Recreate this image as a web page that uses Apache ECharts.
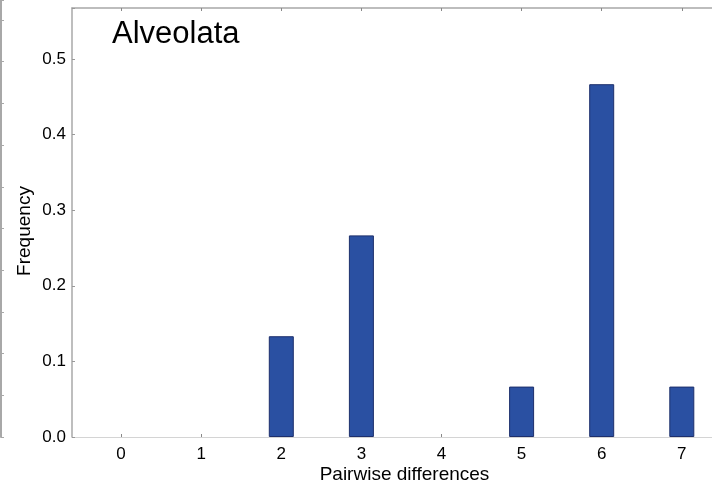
<!DOCTYPE html>
<html>
<head>
<meta charset="utf-8">
<script src="https://cdn.jsdelivr.net/npm/echarts@6/dist/echarts.min.js"></script>
<style>html,body{margin:0;padding:0;background:#fff}#c{width:712px;height:489px}</style>
</head>
<body>
<div id="c"></div>
<script>
const titleText = "Alveolata";
const xName = "Pairwise differences";
const yName = "Frequency";
const categories = [0, 1, 2, 3, 4, 5, 6, 7];
const frequency = [0, 0, 0.1333, 0.2667, 0, 0.0667, 0.4667, 0.0667];
const yTicks = [0, 0.1, 0.2, 0.3, 0.4, 0.5];

const barData = categories.map((c, i) => [c, frequency[i]]).filter(d => d[1] > 0);
const font = "Liberation Sans, Arial, Helvetica, sans-serif";

const chart = echarts.init(document.getElementById('c'), null, {renderer: 'canvas'});
chart.setOption({
  animation: false,
  backgroundColor: '#ffffff',
  title: {
    text: titleText, left: 107, top: 14,
    textStyle: {fontFamily: font, fontSize: 31, fontWeight: 'normal', color: '#000'}
  },
  grid: [
    {left: 72, top: 8, width: 640, height: 429, containLabel: false, outerBoundsMode: 'none'},
    {left: -50, top: 0, width: 51, height: 437, containLabel: false, outerBoundsMode: 'none'}
  ],
  xAxis: [
    {
      type: 'value', gridIndex: 0, min: -0.613, max: 7.377,
      name: xName, nameLocation: 'middle', nameGap: 28, nameMoveOverlap: false,
      nameTextStyle: {fontFamily: font, fontSize: 19, color: '#000', padding: [0, 0, 0, 25]},
      axisLine: {show: true, onZero: false, lineStyle: {color: '#d4d4d4', width: 1}},
      axisTick: {show: true, inside: true, length: 3, lineStyle: {color: '#888'}, customValues: categories},
      axisLabel: {fontFamily: font, fontSize: 17, color: '#000', margin: 9, customValues: categories},
      splitLine: {show: false}
    },
    {
      type: 'value', gridIndex: 0, position: 'top', min: -0.613, max: 7.377,
      axisLine: {show: true, onZero: false, lineStyle: {color: '#a8a8a8', width: 1.5}},
      axisTick: {show: true, inside: true, length: 3, lineStyle: {color: '#888'}, customValues: categories},
      axisLabel: {show: false},
      splitLine: {show: false}
    },
    {type: 'value', gridIndex: 1, show: false, min: 0, max: 1}
  ],
  yAxis: [
    {
      type: 'value', gridIndex: 0, min: 0, max: 0.5675, interval: 0.1,
      name: yName, nameLocation: 'middle', nameGap: 38, nameRotate: 90, nameMoveOverlap: false,
      nameTextStyle: {fontFamily: font, fontSize: 19, color: '#000', padding: [0, 17, 0, 0]},
      axisLine: {show: true, onZero: false, lineStyle: {color: '#a8a8a8', width: 1.5}},
      axisTick: {show: true, inside: true, length: 3, lineStyle: {color: '#999'}},
      axisLabel: {fontFamily: font, fontSize: 17, color: '#000', margin: 6,
        customValues: yTicks, formatter: v => v.toFixed(1)},
      splitLine: {show: false}
    },
    {
      type: 'value', gridIndex: 1, position: 'right', min: 0, max: 10.48, interval: 1,
      axisLine: {show: true, onZero: false, lineStyle: {color: '#a8a8a8', width: 2}},
      axisTick: {show: true, inside: false, length: 3, lineStyle: {color: '#a8a8a8'}},
      axisLabel: {show: false},
      splitLine: {show: false}
    }
  ],
  series: [{
    type: 'bar', xAxisIndex: 0, yAxisIndex: 0,
    data: barData, barWidth: 25,
    itemStyle: {color: '#2a50a2', borderColor: '#1d2f6c', borderWidth: 1}
  }]
});
</script>
</body>
</html>
